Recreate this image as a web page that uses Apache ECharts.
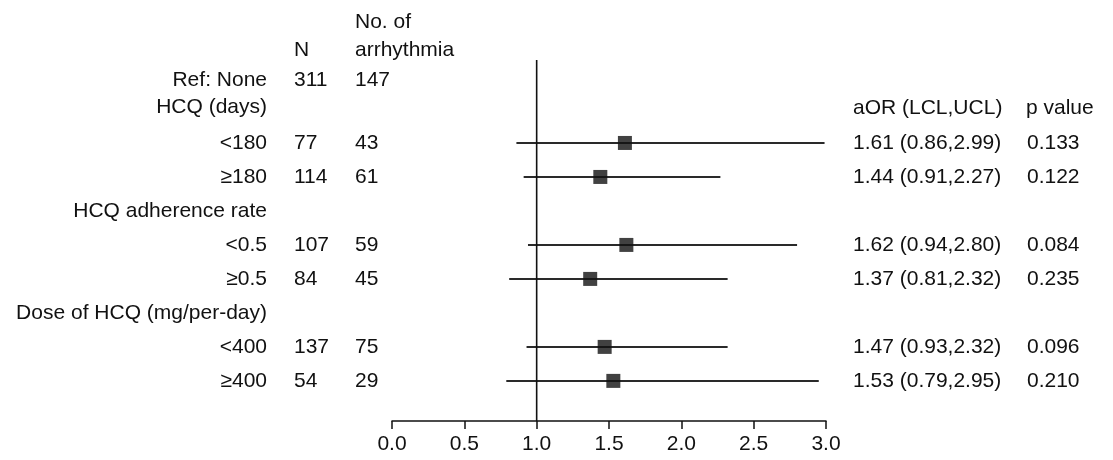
<!DOCTYPE html>
<html>
<head>
<meta charset="utf-8">
<script src="https://cdn.jsdelivr.net/npm/echarts@6/dist/echarts.min.js"></script>
<style>
  html, body { margin: 0; padding: 0; background: #fff; }
  #chart { width: 1113px; height: 460px; }
</style>
</head>
<body>
<div id="chart"></div>
<script>
// row labels and their vertical slot (row units, top = 0)
const rowLabels = ["Ref: None", "HCQ (days)", "<180", "≥180", "HCQ adherence rate", "<0.5", "≥0.5",
  "Dose of HCQ (mg/per-day)", "<400", "≥400"];
const rowPos = [2.15, 2.95, 4, 5, 6, 7, 8, 9, 10, 11];
const nValues = ["311", "", "77", "114", "", "107", "84", "", "137", "54"];
const arrhythmia = ["147", "", "43", "61", "", "59", "45", "", "75", "29"];
const aor = [null, null, 1.61, 1.44, null, 1.62, 1.37, null, 1.47, 1.53];
const lcl = [null, null, 0.86, 0.91, null, 0.94, 0.81, null, 0.93, 0.79];
const ucl = [null, null, 2.99, 2.27, null, 2.80, 2.32, null, 2.32, 2.95];
const pValues = ["", "", "0.133", "0.122", "", "0.084", "0.235", "", "0.096", "0.210"];

const refValue = 1;
const refTop = 1.56;
const rowMax = 12.18;
const FONT = '21px "Liberation Sans", Arial, sans-serif';
const INK = "#111";

const aorText = aor.map((v, i) =>
  v == null ? "" : v.toFixed(2) + " (" + lcl[i].toFixed(2) + "," + ucl[i].toFixed(2) + ")");

// text column drawn in the full-width table grid
function textColumn(xPos, texts, positions, align) {
  const idx = texts.map((t, i) => i).filter((i) => texts[i] !== "");
  return {
    type: "custom",
    xAxisIndex: 1,
    yAxisIndex: 1,
    silent: true,
    data: idx.map((i) => [xPos, positions[i]]),
    renderItem: (params, api) => {
      const p = api.coord([api.value(0), api.value(1)]);
      return {
        type: "text",
        x: p[0],
        y: p[1],
        style: {
          text: texts[idx[params.dataIndex]],
          font: FONT,
          fill: INK,
          align: align,
          verticalAlign: "middle",
        },
      };
    },
  };
}

const ciRows = aor.map((v, i) => i).filter((i) => aor[i] != null);

const chart = echarts.init(document.getElementById("chart"));
chart.setOption({
  animation: false,
  grid: [
    { left: 392, right: 287, top: 7, bottom: 39 },
    { left: 0, right: 0, top: 7, bottom: 39 },
  ],
  xAxis: [
    {
      type: "value",
      gridIndex: 0,
      position: "bottom",
      min: 0,
      max: 3,
      interval: 0.5,
      axisLine: { show: true, onZero: false, lineStyle: { color: INK, width: 1.5 } },
      axisTick: { show: true, length: 8, lineStyle: { color: INK, width: 1.5 } },
      axisLabel: {
        fontSize: 21,
        fontFamily: "Liberation Sans",
        color: INK,
        margin: 13,
        formatter: (v) => v.toFixed(1),
      },
      splitLine: { show: false },
    },
    { type: "value", gridIndex: 1, min: 0, max: 1113, show: false },
  ],
  yAxis: [
    { type: "value", gridIndex: 0, min: 0, max: rowMax, inverse: true, show: false },
    { type: "value", gridIndex: 1, min: 0, max: rowMax, inverse: true, show: false },
  ],
  series: [
    // reference line at OR = 1
    {
      type: "line",
      xAxisIndex: 0,
      yAxisIndex: 0,
      symbol: "none",
      silent: true,
      lineStyle: { color: INK, width: 1.6 },
      data: [[refValue, refTop], [refValue, rowMax]],
    },
    // confidence intervals
    {
      type: "custom",
      xAxisIndex: 0,
      yAxisIndex: 0,
      silent: true,
      data: ciRows.map((i) => [lcl[i], ucl[i], rowPos[i]]),
      renderItem: (params, api) => {
        const a = api.coord([api.value(0), api.value(2)]);
        const b = api.coord([api.value(1), api.value(2)]);
        return {
          type: "line",
          shape: { x1: a[0], y1: a[1], x2: b[0], y2: b[1] },
          style: { stroke: "#2a2a2a", lineWidth: 2 },
        };
      },
    },
    // point estimates
    {
      type: "scatter",
      xAxisIndex: 0,
      yAxisIndex: 0,
      symbol: "rect",
      symbolSize: 14,
      z: 5,
      silent: true,
      itemStyle: { color: INK },
      data: ciRows.map((i) => [aor[i], rowPos[i]]),
    },
    // table columns
    textColumn(267, rowLabels, rowPos, "right"),
    textColumn(294, nValues, rowPos, "left"),
    textColumn(355, arrhythmia, rowPos, "left"),
    textColumn(853, aorText, rowPos, "left"),
    textColumn(1027, pValues, rowPos, "left"),
    // column headers
    textColumn(294, ["N"], [1.26], "left"),
    textColumn(355, ["No. of", "arrhythmia"], [0.44, 1.26], "left"),
    textColumn(853, ["aOR (LCL,UCL)"], [2.98], "left"),
    textColumn(1026, ["p value"], [2.98], "left"),
  ],
});
</script>
</body>
</html>
